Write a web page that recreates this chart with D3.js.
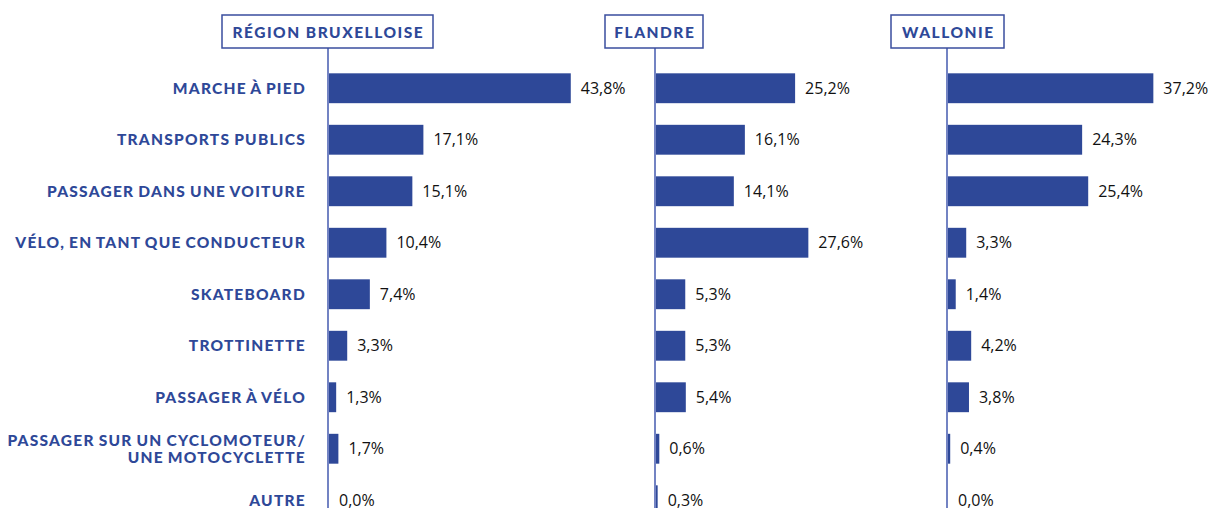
<!DOCTYPE html>
<html>
<head>
<meta charset="utf-8">
<script src="https://cdn.jsdelivr.net/npm/d3@7"></script>
<style>
  body { margin: 0; background: #fff; }
  text { font-family: Lato, "Open Sans", sans-serif; }
</style>
</head>
<body>
<script>
// categories (rows) and one series per region
var categories = ["MARCHE À PIED", "TRANSPORTS PUBLICS", "PASSAGER DANS UNE VOITURE",
  "VÉLO, EN TANT QUE CONDUCTEUR", "SKATEBOARD", "TROTTINETTE", "PASSAGER À VÉLO",
  "PASSAGER SUR UN CYCLOMOTEUR/|UNE MOTOCYCLETTE", "AUTRE"];
var regions = ["RÉGION BRUXELLOISE", "FLANDRE", "WALLONIE"];
var bruxelles = [43.8, 17.1, 15.1, 10.4, 7.4, 3.3, 1.3, 1.7, 0.0];
var flandre = [25.2, 16.1, 14.1, 27.6, 5.3, 5.3, 5.4, 0.6, 0.3];
var wallonie = [37.2, 24.3, 25.4, 3.3, 1.4, 4.2, 3.8, 0.4, 0.0];
var series = [bruxelles, flandre, wallonie];

var W = 1209, H = 508;
var barColor = "#2e4898", axisColor = "#7383c3", labelColor = "#2e4898";

var svg = d3.select("body").append("svg")
    .attr("width", W).attr("height", H);

// panels: x of the zero line and box extents
var panels = [
  {x0: 328, boxL: 222, boxR: 433},
  {x0: 655, boxL: 605, boxR: 703},
  {x0: 947, boxL: 891, boxR: 1004}
];

var y = d3.scaleBand().domain(d3.range(categories.length))
    .range([62.5, 526]).paddingInner(0.42).paddingOuter(0.21);
var len = d3.scaleLinear().domain([0, 10]).range([0, 55.2]);
var fmt = function(v) { return d3.format(".1f")(v).replace(".", ",") + "%"; };

// category labels
var lab = svg.append("g").selectAll("text")
    .data(categories).enter().append("text")
    .attr("text-anchor", "end")
    .attr("fill", labelColor)
    .attr("font-size", "15.5px")
    .attr("font-weight", 900)
    .attr("letter-spacing", "1.25px")
    .attr("word-spacing", "-1px")
    .attr("y", function(d, i) {
      var c = y(i) + y.bandwidth() / 2;
      return d.indexOf("|") >= 0 ? c - 3 : c + 5.5;
    });
lab.each(function(d) {
  var parts = d.split("|");
  var t = d3.select(this);
  parts.forEach(function(p, k) {
    t.append("tspan").attr("x", 306).attr("dy", k === 0 ? 0 : 17).text(p);
  });
});

panels.forEach(function(p, r) {
  var g = svg.append("g");
  var data = series[r];

  // axis line
  g.append("line")
    .attr("x1", p.x0).attr("x2", p.x0)
    .attr("y1", 48).attr("y2", H)
    .attr("stroke", axisColor).attr("stroke-width", 2);

  // header box
  g.append("rect")
    .attr("x", p.boxL).attr("y", 15)
    .attr("width", p.boxR - p.boxL).attr("height", 33)
    .attr("fill", "#fff").attr("stroke", "#3a4e9e").attr("stroke-width", 1.5);
  g.append("text")
    .attr("x", (p.boxL + p.boxR) / 2 + 0.8).attr("y", 37.5)
    .attr("text-anchor", "middle")
    .attr("fill", labelColor)
    .attr("font-size", "15.5px").attr("font-weight", 900)
    .attr("letter-spacing", "1.5px")
    .text(regions[r]);

  // bars
  g.selectAll("rect.bar").data(data).enter().append("rect")
    .attr("class", "bar")
    .attr("x", p.x0 + 1)
    .attr("y", function(d, i) { return y(i); })
    .attr("width", function(d) { return len(d); })
    .attr("height", y.bandwidth())
    .attr("fill", barColor);

  // value labels
  g.selectAll("text.val").data(data).enter().append("text")
    .attr("class", "val")
    .attr("x", function(d) { return p.x0 + 1 + len(d) + 10; })
    .attr("y", function(d, i) { return y(i) + y.bandwidth() / 2 + 5.5; })
    .attr("fill", "#111")
    .attr("font-size", "16px")
    .style("font-family", "'Open Sans', sans-serif")
    .text(fmt);
});
</script>
</body>
</html>
